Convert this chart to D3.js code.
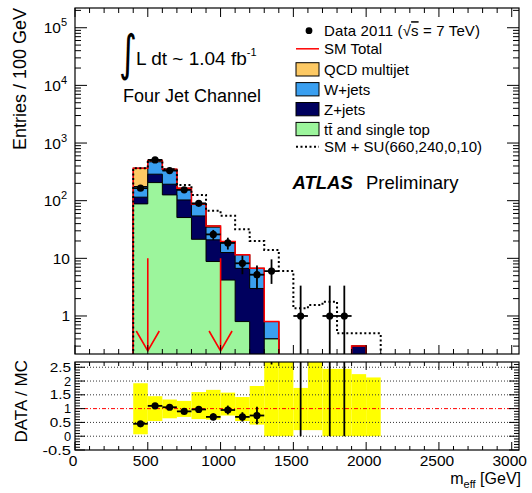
<!DOCTYPE html>
<html><head><meta charset="utf-8">
<script src="https://cdn.jsdelivr.net/npm/d3@7"></script>
<style>
body{margin:0;background:#fff}
text{font-family:"Liberation Sans",Arial,Helvetica,sans-serif;fill:#000}
</style>
</head><body>
<svg id="c" width="532" height="493" xmlns="http://www.w3.org/2000/svg"></svg>
<script>
// ---------------- data ----------------
const binLow   = [400,500,600,700,800,900,1000,1100,1200,1300,1400,1500,1600,1700,1800,1900,2000];
const binWidth = 100;
const ttbar = [88,206,126,51,21.4,8.8,4.2,0.8,0.1,0.4,0,0,0,0,0,0,0];
const zjets = [27,82,67,52,33,12.1,8.4,5.9,2.9,0,0,0,0,0,0,0.3,0];
const wjets = [61,184,147,57,31.6,13.8,6.9,4.8,3.7,0.4,0,0,0,0,0,0,0];
const qcd   = [191,25,12,5,2,1.8,0,0,0,0,0,0,0,0,0,0,0];
const smSusy = [367,497,352,188,126,67,55,32,20,14,6,1.36,1.55,1.77,0.5,0.5,0.5];

const dataX   = [450,550,650,750,850,950,1050,1150,1250,1350,1550,1750,1850];
const dataY   = [165,510,333,154,90,26,18.5,8.2,5.2,6,1,1,1];
const dataErrLo = [13,23,18,12,9.5,5.1,4.3,2.9,2.3,2.4,0.83,0.83,0.83];
const dataErrHi = [13,23,18,12,9.5,5.1,4.3,2.9,2.3,3.6,2.36,2.36,2.36];

const ratioX   = [450,550,650,750,850,950,1050,1150,1250];
const ratioY   = [0.45,1.1,1.05,0.9,0.97,0.7,0.95,0.7,0.75];
const ratioErr = [0.05,0.06,0.06,0.07,0.1,0.13,0.16,0.17,0.32];
const ratioOffX  = [1350,1550,1750,1850];
const ratioOffLo = [2.6,0,0,0];

const bandLo = [0.07,0.55,0.65,0.7,0.62,0.6,0.75,0.55,0.42,0,0,0.22,0.22,0,0,0,0];
const bandHi = [1.92,1.45,1.33,1.28,1.6,1.68,1.58,1.42,1.82,2.7,2.7,1.75,2.7,2.44,2.44,2.25,2.13];

const cutValues = [500,1000];
const arrowFrom = 10;

const yTickDecades = [0,1,2,3,4,5];
const ratioTicks = [-0.5,0,0.5,1,1.5,2,2.5];
const ratioGrid = [0,0.5,1.5,2,2.5];
const xTickLabels = [0,500,1000,1500,2000,2500,3000];

const legendItems = [
  {label:"QCD multijet", color:"#fdc964"},
  {label:"W+jets", color:"#3a9ff0"},
  {label:"Z+jets", color:"#00005e"},
  {label:"tt\u0304 and single top", color:"#9cf59c"}
];
const colQCD="#fdc964", colW="#3a9ff0", colZ="#00005e", colTT="#9cf59c";

// ---------------- layout ----------------
const svg = d3.select("#c");
const L = 75, R = 519, T1 = 8, B1 = 354, T2 = 362, B2 = 450;
const x = d3.scaleLinear().domain([0,3050]).range([L,R]);
const y = d3.scaleLog().domain([0.219,2.2e5]).range([B1,T1]);
const yr = d3.scaleLinear().domain([-0.5,2.69]).range([B2,T2]);

const defs = svg.append("defs");
defs.append("clipPath").attr("id","clip1").append("rect").attr("x",L).attr("y",T1).attr("width",R-L).attr("height",B1-T1);
defs.append("clipPath").attr("id","clip2").append("rect").attr("x",L).attr("y",T2).attr("width",R-L).attr("height",B2-T2);

const yv = v => v > 0 ? Math.min(y(v), B1+6) : B1+6;

function stepPath(vals, yfun, base){
  let p = `M${x(binLow[0])},${base}`;
  vals.forEach((v,i)=>{
    p += `L${x(binLow[i])},${yfun(v)}L${x(binLow[i]+binWidth)},${yfun(v)}`;
  });
  p += `L${x(binLow[binLow.length-1]+binWidth)},${base}`;
  return p;
}

// cumulative stacks
const cTT = ttbar.slice();
const cZ  = ttbar.map((v,i)=>v+zjets[i]);
const cW  = cZ.map((v,i)=>v+wjets[i]);
const cQ  = cW.map((v,i)=>v+qcd[i]);

const g1 = svg.append("g").attr("clip-path","url(#clip1)");
[[cQ,colQCD],[cW,colW],[cZ,colZ],[cTT,colTT]].forEach(([vals,col])=>{
  g1.append("path").attr("d",stepPath(vals,yv,B1+6)+"Z")
    .attr("fill",col).attr("stroke","#000").attr("stroke-width",1);
});
// SM total red line
g1.append("path").attr("d",stepPath(cQ,yv,B1+6)).attr("fill","none")
  .attr("stroke","#ff0000").attr("stroke-width",1.5);
// SM + SUSY dotted
g1.append("path").attr("d",stepPath(smSusy,yv,B1+6)).attr("fill","none")
  .attr("stroke","#000").attr("stroke-width",2).attr("stroke-dasharray","2,2.5");

// cut arrows
cutValues.forEach(c=>{
  const xa = x(c), y0 = y(arrowFrom), y1 = B1-3;
  g1.append("path").attr("d",`M${xa},${y0}L${xa},${y1}M${xa-11.5},${y1-20}L${xa},${y1}L${xa+11.5},${y1-20}`)
    .attr("fill","none").attr("stroke","#ff0000").attr("stroke-width",1.6);
});

// data points
dataX.forEach((dx,i)=>{
  const cx = x(dx), cy = y(dataY[i]);
  const lo = dataY[i]-dataErrLo[i];
  g1.append("line").attr("x1",cx).attr("x2",cx)
    .attr("y1",y(dataY[i]+dataErrHi[i])).attr("y2",lo>0?y(lo):B1+6)
    .attr("stroke","#000").attr("stroke-width",1.8);
  g1.append("line").attr("x1",x(dx-binWidth/2)).attr("x2",x(dx+binWidth/2))
    .attr("y1",cy).attr("y2",cy).attr("stroke","#000").attr("stroke-width",1.8);
  g1.append("circle").attr("cx",cx).attr("cy",cy).attr("r",3.6).attr("fill","#000");
});

// ---------------- ratio panel ----------------
const g2 = svg.append("g").attr("clip-path","url(#clip2)");
binLow.forEach((b,i)=>{
  g2.append("rect").attr("x",x(b)).attr("width",x(b+binWidth)-x(b))
    .attr("y",yr(Math.min(bandHi[i],2.69))).attr("height",yr(bandLo[i])-yr(Math.min(bandHi[i],2.69)))
    .attr("fill","#ffff00");
});
ratioGrid.forEach(v=>{
  g2.append("line").attr("x1",L).attr("x2",R).attr("y1",yr(v)).attr("y2",yr(v))
    .attr("stroke","#333").attr("stroke-width",1).attr("stroke-dasharray","1,2");
});
g2.append("line").attr("x1",L).attr("x2",R).attr("y1",yr(1)).attr("y2",yr(1))
  .attr("stroke","#ff0000").attr("stroke-width",1).attr("stroke-dasharray","4,2,1,2");
ratioX.forEach((rx,i)=>{
  const cx = x(rx), cy = yr(ratioY[i]);
  g2.append("line").attr("x1",cx).attr("x2",cx).attr("y1",yr(ratioY[i]+ratioErr[i])).attr("y2",yr(ratioY[i]-ratioErr[i]))
    .attr("stroke","#000").attr("stroke-width",1.8);
  g2.append("line").attr("x1",x(rx-binWidth/2)).attr("x2",x(rx+binWidth/2)).attr("y1",cy).attr("y2",cy)
    .attr("stroke","#000").attr("stroke-width",1.8);
  g2.append("circle").attr("cx",cx).attr("cy",cy).attr("r",3.6).attr("fill","#000");
});
ratioOffX.forEach((rx,i)=>{
  g2.append("line").attr("x1",x(rx)).attr("x2",x(rx)).attr("y1",yr(ratioOffLo[i])).attr("y2",T2)
    .attr("stroke","#000").attr("stroke-width",1.8);
});

// ---------------- axes / frames ----------------
function frame(t,b){
  svg.append("rect").attr("x",L).attr("y",t).attr("width",R-L).attr("height",b-t)
    .attr("fill","none").attr("stroke","#000").attr("stroke-width",1.2);
}
frame(T1,B1); frame(T2,B2);
const tk = svg.append("g").attr("stroke","#000").attr("stroke-width",1);
function tick(x1,y1,x2,y2){ tk.append("line").attr("x1",x1).attr("y1",y1).attr("x2",x2).attr("y2",y2); }

// x ticks (both panels, top and bottom of each)
d3.range(0,3001,100).forEach(v=>{
  const xx = x(v), major = v%500===0;
  const l1 = major?9:5, l2 = major?8:4;
  tick(xx,T1,xx,T1+l1); tick(xx,B1,xx,B1-l1);
  tick(xx,T2,xx,T2+l2); tick(xx,B2,xx,B2-l2);
});
// log y ticks
d3.range(-1,6).forEach(d=>{
  d3.range(1,10).forEach(m=>{
    const v = m*Math.pow(10,d);
    if (v < y.domain()[0] || v > y.domain()[1]) return;
    const yy = y(v), len = m===1?12:6;
    tick(L,yy,L+len,yy); tick(R,yy,R-len,yy);
  });
});
// ratio y ticks
d3.range(-5,27).forEach(k=>{
  const v = k/10, yy = yr(v), major = k%5===0;
  const len = major?10:5;
  tick(L,yy,L+len,yy); tick(R,yy,R-len,yy);
});

// y labels (top)
yTickDecades.forEach(d=>{
  const t = svg.append("text").attr("y",y(Math.pow(10,d))+5.5).attr("font-size",15.5);
  if (d===0){ t.attr("x",70).attr("text-anchor","end").text("1"); }
  else if (d===1){ t.attr("x",70).attr("text-anchor","end").text("10"); }
  else {
    t.attr("x",67).attr("text-anchor","end");
    t.append("tspan").text("10");
    t.append("tspan").attr("dy",-7).attr("font-size",11).text(String(d));
  }
});
// ratio labels
ratioTicks.forEach(v=>{
  svg.append("text").attr("x",71).attr("y",yr(v)+4.6).attr("text-anchor","end")
    .attr("font-size",13).attr("textLength",String(v).length*7.1).attr("lengthAdjust","spacingAndGlyphs")
    .text(String(v));
});
// x labels
xTickLabels.forEach(v=>{
  svg.append("text").attr("x",x(v)-2).attr("y",466).attr("text-anchor","middle")
    .attr("font-size",15.5).text(String(v));
});

// axis titles
svg.append("text").attr("transform","translate(26,8) rotate(-90)").attr("text-anchor","end")
  .attr("font-size",18).text("Entries / 100 GeV");
svg.append("text").attr("transform","translate(27,360) rotate(-90)").attr("text-anchor","end")
  .attr("font-size",17).text("DATA / MC");
const xt = svg.append("text").attr("x",521).attr("y",484).attr("text-anchor","end").attr("font-size",16);
xt.append("tspan").text("m");
xt.append("tspan").attr("dy",4).attr("font-size",11).text("eff");
xt.append("tspan").attr("dy",-4).text(" [GeV]");

// ---------------- annotations ----------------
svg.append("text").attr("transform","translate(119,70) scale(1,1.45)")
  .style("font-family","DejaVu Sans").attr("font-size",34).text("\u222B");
const lum = svg.append("text").attr("x",136).attr("y",65).attr("font-size",19);
lum.append("tspan").text("L dt ~ 1.04 fb");
lum.append("tspan").attr("dy",-9).attr("font-size",11).text("-1");
svg.append("text").attr("x",123).attr("y",102).attr("font-size",18).text("Four Jet Channel");

// legend
const lx = 296, tx = 324;
svg.append("circle").attr("cx",309).attr("cy",30.7).attr("r",3.4).attr("fill","#000");
const dt = svg.append("text").attr("x",tx).attr("y",36.2).attr("font-size",15)
  .attr("textLength",156).attr("lengthAdjust","spacing");
dt.append("tspan").text("Data 2011 (\u221A");
dt.append("tspan").attr("text-decoration","overline").text("s");
dt.append("tspan").text(" = 7 TeV)");
svg.append("line").attr("x1",lx).attr("x2",lx+23).attr("y1",48.8).attr("y2",48.8).attr("stroke","#ff0000").attr("stroke-width",1.5);
svg.append("text").attr("x",tx).attr("y",54.3).attr("font-size",15).text("SM Total");
legendItems.forEach((it,i)=>{
  const yy = 62.7 + i*19.9;
  svg.append("rect").attr("x",lx).attr("y",yy).attr("width",23).attr("height",13.3)
    .attr("fill",it.color).attr("stroke","#000").attr("stroke-width",1);
  svg.append("text").attr("x",tx).attr("y",yy+12.2).attr("font-size",15).text(it.label);
});
svg.append("line").attr("x1",lx).attr("x2",lx+23).attr("y1",146.7).attr("y2",146.7)
  .attr("stroke","#000").attr("stroke-width",2).attr("stroke-dasharray","2,2.5");
svg.append("text").attr("x",tx).attr("y",152.2).attr("font-size",15).text("SM + SU(660,240,0,10)");

const at = svg.append("text").attr("x",292.5).attr("y",188.5).attr("font-size",18.5);
at.append("tspan").attr("font-weight","bold").attr("font-style","italic").text("ATLAS");
at.append("tspan").attr("x",366).text("Preliminary");
</script>
</body></html>
